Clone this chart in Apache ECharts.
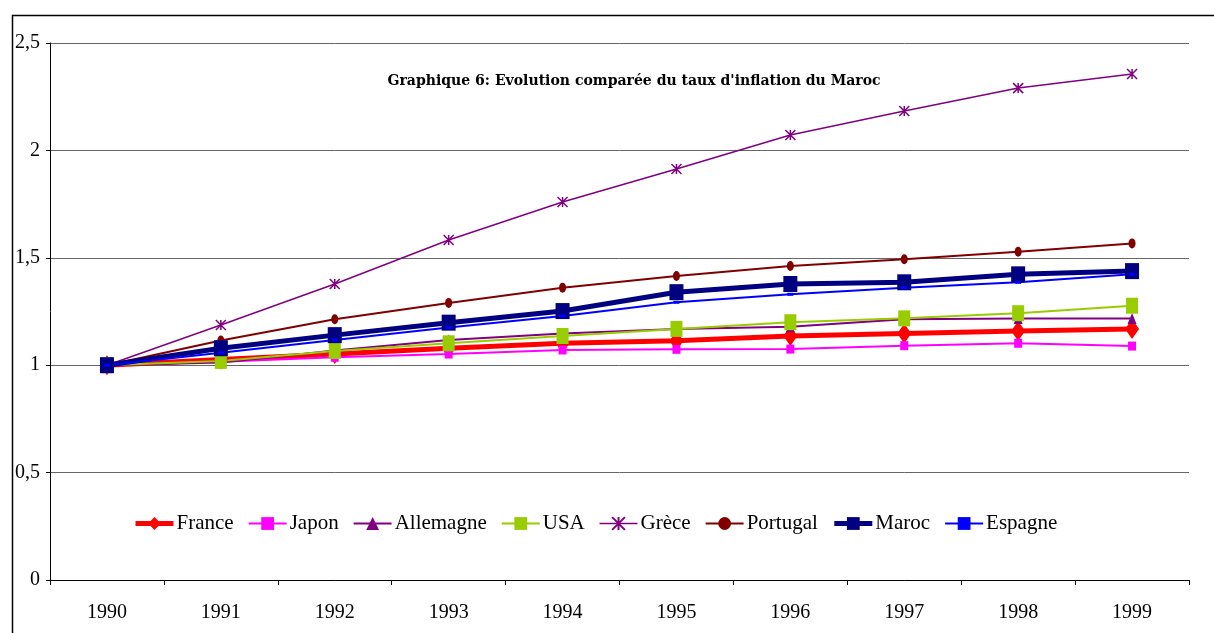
<!DOCTYPE html>
<html>
<head>
<meta charset="utf-8">
<script src="https://cdn.jsdelivr.net/npm/echarts@6/dist/echarts.min.js"></script>
<style>
html,body{margin:0;padding:0;background:#fff;}
#c{width:1214px;height:633px;}
</style>
</head>
<body>
<div id="c"></div>
<script>
const years = ['1990','1991','1992','1993','1994','1995','1996','1997','1998','1999'];
const france    = [1, 1.027, 1.052, 1.079, 1.102, 1.114, 1.136, 1.148, 1.159, 1.169];
const japon     = [1, 1.016, 1.037, 1.052, 1.071, 1.074, 1.075, 1.091, 1.102, 1.089];
const allemagne = [1, 1.012, 1.068, 1.117, 1.148, 1.169, 1.179, 1.214, 1.217, 1.217];
const usa       = [1, 1.020, 1.066, 1.102, 1.136, 1.169, 1.200, 1.218, 1.242, 1.277];
const grece     = [1, 1.187, 1.378, 1.583, 1.760, 1.913, 2.072, 2.183, 2.290, 2.356];
const portugal  = [1, 1.115, 1.214, 1.290, 1.361, 1.415, 1.462, 1.493, 1.528, 1.567];
const maroc     = [1, 1.079, 1.140, 1.198, 1.252, 1.340, 1.378, 1.386, 1.423, 1.438];
const espagne   = [1, 1.058, 1.117, 1.175, 1.229, 1.293, 1.330, 1.361, 1.386, 1.423];
const titleText = "Graphique 6: Evolution comparée du taux d'inflation du Maroc";

const serif = 'Liberation Serif';
const asterisk = 'path://M0,0L10,10M10,0L0,10M5,0L5,10';

function mk(name, data, color, width, symbol, size, extra) {
  const s = {
    name, type: 'line', data,
    lineStyle: {color, width},
    itemStyle: {color},
    symbol, symbolSize: size,
    showSymbol: true
  };
  return Object.assign(s, extra || {});
}

const series = [
  mk('France', france, '#FF0000', 5, 'diamond', [14, 20]),
  mk('Japon', japon, '#FF00FF', 2, 'rect', [8, 9]),
  mk('Allemagne', allemagne, '#800080', 2, 'triangle', [9, 11]),
  mk('USA', usa, '#99CC00', 2, 'rect', [12, 16]),
  mk('Grèce', grece, '#800080', 1.5, asterisk, 10,
     {itemStyle: {color: 'none', borderColor: '#800080', borderWidth: 1.5}}),
  mk('Portugal', portugal, '#800000', 2, 'circle', [7, 10]),
  mk('Maroc', maroc, '#000080', 5, 'rect', [14, 16]),
  mk('Espagne', espagne, '#0000FF', 2, 'rect', [6, 3])
];

const chart = echarts.init(document.getElementById('c'));
chart.setOption({
  animation: false,
  backgroundColor: '#fff',
  title: {
    text: titleText, left: 629, top: 68, textAlign: 'center',
    textStyle: {fontFamily: 'DejaVu Serif Condensed', fontWeight: 'bold', fontSize: 15.6, color: '#000'}
  },
  graphic: [{
    type: 'rect', shape: {x: 12.5, y: 15.5, width: 1230, height: 650},
    style: {fill: 'none', stroke: '#000', lineWidth: 1.5}, silent: true, z: -1
  }],
  grid: {left: 50, right: 25, top: 43, bottom: 53},
  legend: {
    left: 133, top: 513, padding: 0,
    itemWidth: 38, itemHeight: 16, itemGap: 14,
    textStyle: {fontFamily: serif, fontSize: 21, color: '#000', padding: [0, 0, 0, -2]},
    data: series.map(s => ({name: s.name, lineStyle: {width: s.lineStyle.width, color: s.lineStyle.color}}))
  },
  xAxis: {
    type: 'category', data: years, boundaryGap: true,
    axisLine: {lineStyle: {color: '#000', width: 1}},
    axisTick: {show: true, length: 5, alignWithLabel: false, lineStyle: {color: '#000'}},
    axisLabel: {fontFamily: serif, fontSize: 20, color: '#000', margin: 23}
  },
  yAxis: {
    type: 'value', min: 0, max: 2.5, interval: 0.5,
    axisLine: {show: true, lineStyle: {color: '#000', width: 1}},
    axisTick: {show: true, length: 4, lineStyle: {color: '#000'}},
    splitLine: {show: true, lineStyle: {color: '#666', width: 1}},
    axisLabel: {fontFamily: serif, fontSize: 20, color: '#000', margin: 10,
      formatter: v => String(v).replace('.', ',')}
  },
  series: series
});
</script>
</body>
</html>
